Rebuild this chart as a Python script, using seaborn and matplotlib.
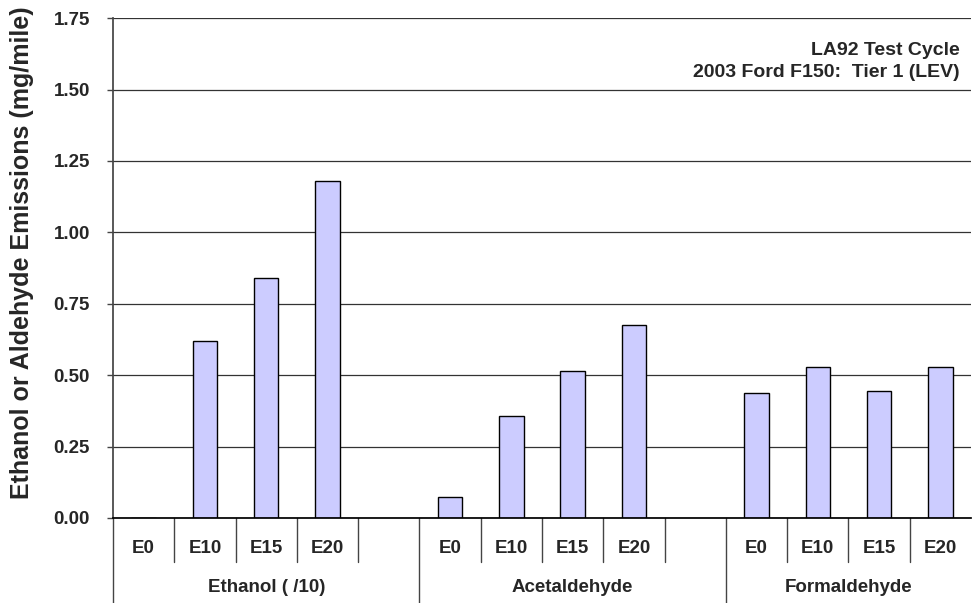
"""Ethanol / aldehyde emissions bar chart (LA92, 2003 Ford F150)."""

import matplotlib
matplotlib.use("Agg")
import matplotlib.pyplot as plt
import matplotlib.transforms as mtransforms
import pandas as pd
import seaborn as sns

fuels = ["E0", "E10", "E15", "E20"]
groups = ["Ethanol ( /10)", "Acetaldehyde", "Formaldehyde"]
ethanol = [0.0, 0.62, 0.84, 1.18]
acetaldehyde = [0.073, 0.356, 0.516, 0.674]
formaldehyde = [0.436, 0.528, 0.444, 0.530]
y_ticks = [0.0, 0.25, 0.5, 0.75, 1.0, 1.25, 1.5, 1.75]

sns.set_theme(style="white")
plt.rcParams["font.family"] = ["Liberation Sans", "DejaVu Sans"]
plt.rcParams["font.weight"] = "bold"

# one slot per bar, with an empty slot after the first two groups
rows, order = [], []
for g, vals in zip(groups, [ethanol, acetaldehyde, formaldehyde]):
    for f, v in zip(fuels, vals):
        slot = f"{g}|{f}"
        rows.append({"slot": slot, "value": v})
        order.append(slot)
    if g != groups[-1]:
        order.append(f"{g}|gap")
df = pd.DataFrame(rows)

fig = plt.figure(figsize=(9.74, 6.03), dpi=100)
ax = fig.add_axes([0.116, 0.141, 0.881, 0.829])

sns.barplot(data=df, x="slot", y="value", order=order, color="#CCCCFF",
            saturation=1, edgecolor="black", linewidth=1, width=0.4, ax=ax)

ax.set_xlim(-0.5, len(order) - 0.5)
ax.set_ylim(0, 1.75)
ax.set_yticks(y_ticks)
ax.set_yticklabels([f"{t:.2f}" for t in y_ticks], fontsize=13.5, fontweight="bold")
ax.yaxis.grid(True, color="#333333", linewidth=0.9)
ax.set_axisbelow(True)
ax.tick_params(axis="y", direction="out", length=4.5, width=1, color="#444444",
               left=True, pad=12)
ax.set_xticks([])
ax.set_xlabel("")
ax.set_ylabel("Ethanol or Aldehyde Emissions (mg/mile)", fontsize=18,
              fontweight="bold")
ax.yaxis.set_label_coords(-0.106, 0.53)
ax.yaxis.label.set_verticalalignment("center")
for side in ["top", "right"]:
    ax.spines[side].set_visible(False)
ax.spines["left"].set_color("#444444")
ax.spines["bottom"].set_color("black")

# two-level category axis
trans = mtransforms.blended_transform_factory(ax.transData, ax.transAxes)
for i, slot in enumerate(order):
    g, f = slot.split("|")
    if f != "gap":
        ax.text(i, -0.062, f, transform=trans, ha="center", va="center",
                fontsize=13.5, fontweight="bold")
    if i == 0 or order[i - 1].split("|")[0] != g:
        ax.plot([i - 0.5, i - 0.5], [0, -0.175], transform=trans, color="#444444",
                linewidth=1, clip_on=False)
    else:
        ax.plot([i - 0.5, i - 0.5], [0, -0.088], transform=trans, color="#444444",
                linewidth=1, clip_on=False)

for g in groups:
    idx = [i for i, s in enumerate(order) if s.startswith(g + "|")]
    ax.text((idx[0] + idx[-1]) / 2, -0.14, g, transform=trans, ha="center",
            va="center", fontsize=13.5, fontweight="bold")

ax.text(0.987, 0.953, "LA92 Test Cycle\n2003 Ford F150:  Tier 1 (LEV)",
        transform=ax.transAxes, ha="right", va="top", fontsize=14,
        fontweight="bold", linespacing=1.4)

fig.savefig("out.png", dpi=100)
